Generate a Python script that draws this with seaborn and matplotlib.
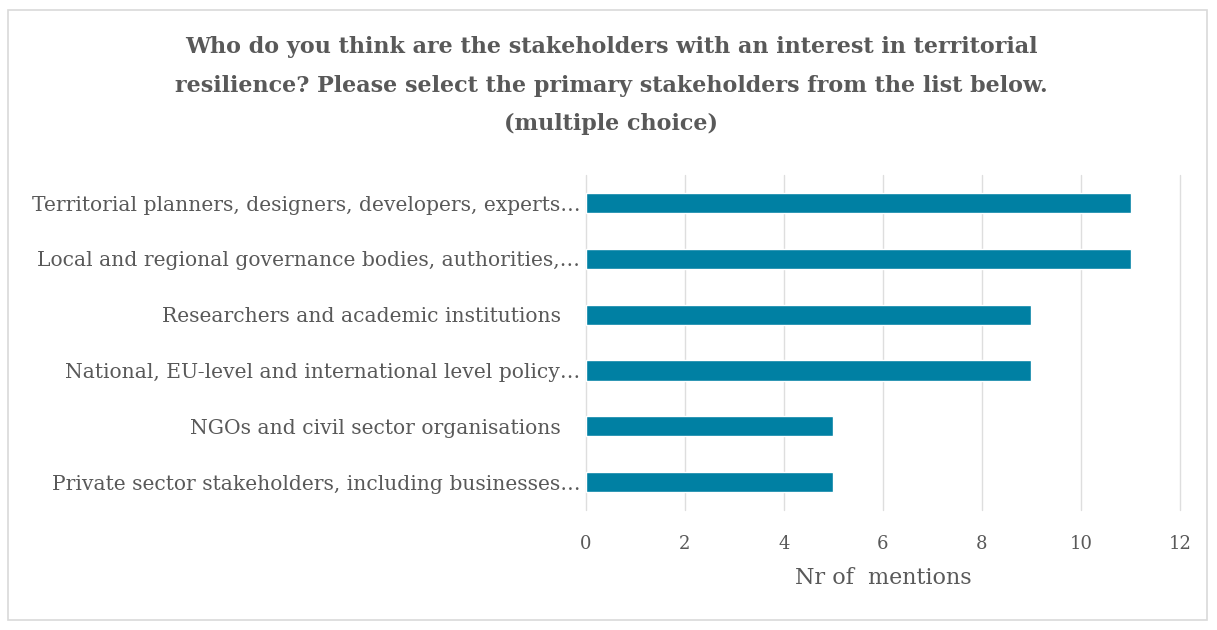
import matplotlib
matplotlib.use("Agg")
import matplotlib.pyplot as plt
import seaborn as sns
import pandas as pd
from matplotlib.patches import Rectangle

categories = [
    "Territorial planners, designers, developers, experts…",
    "Local and regional governance bodies, authorities,…",
    "Researchers and academic institutions   ",
    "National, EU-level and international level policy…",
    "NGOs and civil sector organisations   ",
    "Private sector stakeholders, including businesses…",
]
mentions = [11, 11, 9, 9, 5, 5]
xticks = [0, 2, 4, 6, 8, 10, 12]

title = ("Who do you think are the stakeholders with an interest in territorial\n"
         "resilience? Please select the primary stakeholders from the list below.\n"
         "(multiple choice)")

sns.set_theme(style="white")
plt.rcParams['font.family'] = ['DejaVu Serif']
grey = "#595959"

df = pd.DataFrame({"stakeholder": categories, "mentions": mentions})

fig = plt.figure(figsize=(12.17, 6.30), dpi=100)
ax = fig.add_axes([0.4815, 0.1905, 0.4881, 0.5315])

sns.barplot(data=df, y="stakeholder", x="mentions", orient="h",
            color="#0080A3", saturation=1, width=0.36, ax=ax, zorder=3)

ax.set_xlim(0, 12)
ax.set_ylim(5.5, -0.5)
ax.set_xticks(xticks)
ax.set_xticklabels([str(t) for t in xticks])
ax.grid(axis="x", color="#DEDEDE", linewidth=1.0, zorder=0)
for gl in ax.get_xgridlines():
    gl.set_clip_on(False)
ax.grid(axis="y", visible=False)
for s in ax.spines.values():
    s.set_visible(False)
ax.tick_params(axis="x", length=0, pad=18, labelsize=13, labelcolor=grey)
ax.tick_params(axis="y", length=0, pad=4, labelsize=14.6, labelcolor=grey)
ax.set_ylabel("")
ax.set_xlabel("Nr of  mentions", fontsize=16, color=grey, labelpad=10)

fig.text(0.502, 0.943, title, ha="center", va="top", fontsize=16,
         fontweight="bold", color=grey, linespacing=1.98)

fig.patches.append(Rectangle((8/1217, 10/630), 1199/1217, 610/630,
                             transform=fig.transFigure, fill=False,
                             edgecolor="#D9D9D9", linewidth=1.2))

fig.savefig("out.png", dpi=100)
